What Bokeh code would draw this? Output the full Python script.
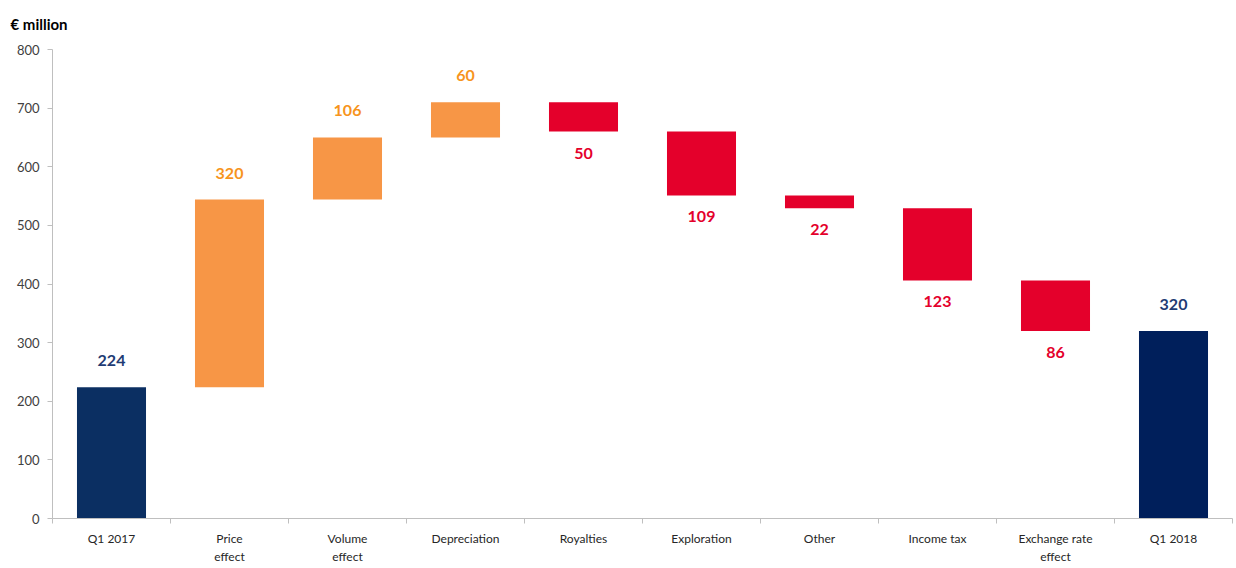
from bokeh.plotting import figure
from bokeh.models import ColumnDataSource, FixedTicker, Range1d
from bokeh.core.properties import value
from bokeh.embed import file_html
from bokeh.resources import INLINE

categories = ["Q1 2017", "Price\neffect", "Volume\neffect", "Depreciation", "Royalties",
              "Exploration", "Other", "Income tax", "Exchange rate\neffect", "Q1 2018"]
values = [224, 320, 106, 60, -50, -109, -22, -123, -86, 320]
kinds = ["total", "up", "up", "up", "down", "down", "down", "down", "down", "total"]
y_ticks = [0, 100, 200, 300, 400, 500, 600, 700, 800]
unit_label = "€ million"

bar_colors = {"up": "#F79646", "down": "#E4002B"}
total_colors = ["#0B2F62", "#001F5B"]
label_colors = {"up": "#F7941D", "down": "#E4002B", "total": "#1F3C74"}

xs, bottoms, tops, fills, lab_y, lab_txt, lab_col, lab_base, lab_off = [], [], [], [], [], [], [], [], []
running = 0
ti = 0
for i, (v, k) in enumerate(zip(values, kinds)):
    x = i + 0.5
    if k == "total":
        b, t = 0, v
        running = v
        fills.append(total_colors[ti]); ti += 1
    else:
        b, t = (running, running + v) if v >= 0 else (running + v, running)
        running += v
        fills.append(bar_colors[k])
    xs.append(x); bottoms.append(b); tops.append(t)
    lab_txt.append(str(abs(v)))
    lab_col.append(label_colors[k])
    if k == "down":
        lab_y.append(b); lab_base.append("top"); lab_off.append(16)
    else:
        lab_y.append(t); lab_base.append("bottom"); lab_off.append(-21)

src = ColumnDataSource(dict(x=xs, bottom=bottoms, top=tops, fill=fills))
lsrc = ColumnDataSource(dict(x=xs, y=lab_y, text=lab_txt, color=lab_col, base=lab_base, off=lab_off))

p = figure(width=1236, height=568, output_backend="svg", toolbar_location=None,
           x_range=Range1d(0, len(categories)), y_range=Range1d(0, 800),
           min_border_left=52, min_border_right=4, min_border_top=49, min_border_bottom=50)
p.outline_line_color = None
p.xgrid.grid_line_color = None
p.ygrid.grid_line_color = None

p.vbar(x="x", bottom="bottom", top="top", width=0.585, fill_color="fill", line_color=None, source=src)
p.text(x="x", y="y", text="text", text_color="color", text_baseline="base", y_offset="off",
       text_align="center", text_font=value("Lato"), text_font_style="bold",
       text_font_size="16px", source=lsrc)

# title (unit label)
p.title.text = unit_label
p.title.align = "left"
p.title.vertical_align = "top"
p.title.offset = -42
p.title.standoff = 29
p.title.text_font = "Lato"
p.title.text_font_size = "15px"
p.title.text_font_style = "bold"
p.title.text_color = "#000000"

# y axis
ya = p.yaxis[0]
ya.ticker = FixedTicker(ticks=y_ticks)
ya.axis_line_color = "#BFBFBF"
ya.major_tick_line_color = "#BFBFBF"
ya.major_tick_out = 5
ya.major_tick_in = 0
ya.minor_tick_line_color = None
ya.major_label_text_font = "Lato"
ya.major_label_text_font_size = "13px"
ya.major_label_text_color = "#404040"
ya.major_label_standoff = 8

# x axis
xa = p.xaxis[0]
xa.ticker = FixedTicker(ticks=xs, minor_ticks=list(range(len(categories) + 1)))
xa.major_label_overrides = {x: c for x, c in zip(xs, categories)}
xa.axis_line_color = "#BFBFBF"
xa.major_tick_line_color = None
xa.major_tick_out = 0
xa.minor_tick_line_color = "#BFBFBF"
xa.minor_tick_out = 5
xa.minor_tick_in = 0
xa.major_label_text_font = "Lato"
xa.major_label_text_font_size = "12px"
xa.major_label_text_color = "#262626"
xa.major_label_standoff = 7

open("out.html", "w").write(file_html(p, INLINE))
